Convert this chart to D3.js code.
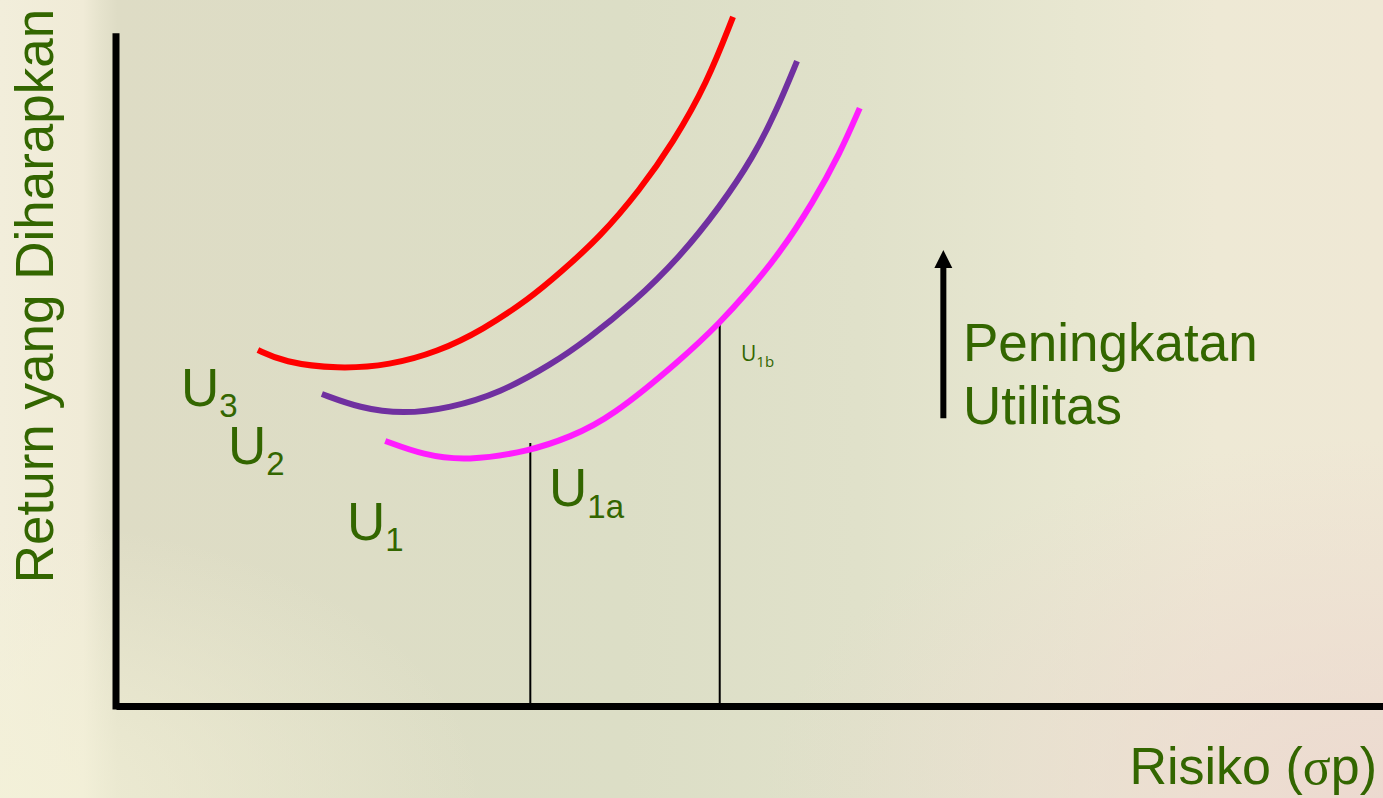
<!DOCTYPE html>
<html>
<head>
<meta charset="utf-8">
<script src="https://cdn.jsdelivr.net/npm/d3@7"></script>
<style>
  html, body { margin: 0; padding: 0; overflow: hidden; }
  svg { display: block; }
</style>
</head>
<body>
<svg id="chart" width="1383" height="798"></svg>
<script>
// Indifference curves: risk (σp) vs expected return, three utility levels
const curveNames = ["U3", "U2", "U1"];
const curveColors = ["#ff0000", "#7030a0", "#ff1cff"];

const riskU3 = [2.24, 2.64, 3.50, 4.33, 5.07, 5.79, 6.54, 7.01, 7.64, 8.27, 8.79, 9.33, 9.74];
const returnU3 = [10.61, 10.25, 10.04, 10.16, 10.55, 11.21, 12.16, 12.91, 13.98, 15.38, 16.78, 18.57, 20.54];

const riskU2 = [3.25, 3.85, 4.53, 5.27, 6.06, 6.88, 7.43, 8.16, 8.90, 9.53, 10.06, 10.43, 10.75];
const returnU2 = [9.30, 8.88, 8.70, 8.88, 9.33, 10.19, 10.91, 12.01, 13.38, 14.87, 16.36, 17.76, 19.22];

const riskU1 = [4.25, 4.85, 5.54, 6.54, 7.17, 7.80, 8.95, 9.53, 9.96, 10.48, 11.00, 11.43, 11.74];
const returnU1 = [7.90, 7.48, 7.30, 7.60, 8.02, 8.58, 10.37, 11.42, 12.31, 13.50, 15.00, 16.48, 17.82];

// Two points on U1 marked with drop lines
const markerNames = ["1a", "1b"];
const markerRisk = [6.54, 9.53];
const markerReturn = [7.84, 11.45];

// Arrow showing the direction of increasing utility
const arrowRisk = 13.06;
const arrowFrom = 8.58;
const arrowTo = 13.59;

const textGreen = "#336600";

const svg = d3.select("#chart");
const W = 1383, H = 798;

// ---- background ----
const defs = svg.append("defs");
const bg = defs.append("linearGradient").attr("id", "bgH").attr("x1", 0).attr("x2", 1).attr("y1", 0).attr("y2", 0);
[[0, "#f2eedb"], [0.06, "#f0ebd7"], [0.072, "#e6e3cd"], [0.085, "#dedcc5"], [0.45, "#dcdec6"],
 [0.62, "#e0e1ca"], [0.78, "#e8e7d1"], [0.88, "#eee9d5"], [1, "#efe8d5"]]
  .forEach(([o, c]) => bg.append("stop").attr("offset", o).attr("stop-color", c));
const pink = defs.append("radialGradient").attr("id", "bgPink")
  .attr("cx", 1).attr("cy", 1).attr("r", 0.45);
pink.append("stop").attr("offset", 0).attr("stop-color", "#ecd8cf").attr("stop-opacity", 0.9);
pink.append("stop").attr("offset", 1).attr("stop-color", "#ecd8cf").attr("stop-opacity", 0);
const bl = defs.append("radialGradient").attr("id", "bgCream")
  .attr("cx", 0).attr("cy", 1).attr("r", 0.35);
bl.append("stop").attr("offset", 0).attr("stop-color", "#f3f1d8").attr("stop-opacity", 0.8);
bl.append("stop").attr("offset", 1).attr("stop-color", "#f3f1d8").attr("stop-opacity", 0);

svg.append("rect").attr("width", W).attr("height", H).attr("fill", "url(#bgH)");
svg.append("rect").attr("width", W).attr("height", H).attr("fill", "url(#bgPink)");
svg.append("rect").attr("width", W).attr("height", H).attr("fill", "url(#bgCream)");

// ---- scales ----
const x = d3.scaleLinear().domain([0, 20]).range([116, 1383]);
const y = d3.scaleLinear().domain([0, 20]).range([706, 35]);

// B-spline through the sampled points keeps each curve smooth
const line = d3.line()
  .x(d => x(d[0]))
  .y(d => y(d[1]))
  .curve(d3.curveBasis);

// ---- drop lines to the risk axis ----
svg.append("g").selectAll("line")
  .data(markerRisk)
  .join("line")
  .attr("x1", d => x(d)).attr("x2", d => x(d))
  .attr("y1", (d, i) => y(markerReturn[i]))
  .attr("y2", y(0))
  .attr("stroke", "#000").attr("stroke-width", 2);

// ---- indifference curves ----
const series = [
  d3.zip(riskU3, returnU3),
  d3.zip(riskU2, returnU2),
  d3.zip(riskU1, returnU1)
];
svg.append("g").selectAll("path")
  .data(series)
  .join("path")
  .attr("d", line)
  .attr("fill", "none")
  .attr("stroke", (d, i) => curveColors[i])
  .attr("stroke-width", 6);

// ---- axes (domain lines only) ----
const xAxis = svg.append("g")
  .attr("transform", `translate(0,${y(0)})`)
  .call(d3.axisBottom(x).ticks(0).tickSize(0).tickSizeOuter(0));
xAxis.select(".domain").attr("stroke", "#000").attr("stroke-width", 7);
const yAxis = svg.append("g")
  .attr("transform", `translate(${x(0)},0)`)
  .call(d3.axisLeft(y).ticks(0).tickSize(0).tickSizeOuter(0));
yAxis.select(".domain").attr("stroke", "#000").attr("stroke-width", 7)
  .attr("d", `M0,${y(20.05)}V${y(0) + 3.5}`);

// ---- axis titles ----
const sans = "'Liberation Sans', Arial, sans-serif";
const xTitle = svg.append("text")
  .attr("x", 1377).attr("y", 784)
  .attr("text-anchor", "end")
  .attr("font-family", sans).attr("font-size", 52)
  .attr("fill", textGreen);
xTitle.append("tspan").text("Risiko (");
xTitle.append("tspan").attr("font-family", "'Liberation Serif', 'DejaVu Serif', serif").text("σ");
xTitle.append("tspan").text("p)");

svg.append("text")
  .attr("transform", "translate(53,296) rotate(-90)")
  .attr("text-anchor", "middle")
  .attr("font-family", sans).attr("font-size", 53)
  .attr("fill", textGreen)
  .text("Return yang Diharapkan");

// ---- curve labels ----
const labelPos = [[181, 406], [228, 464], [347, 540]];
curveNames.forEach((name, i) => {
  const t = svg.append("text")
    .attr("x", labelPos[i][0]).attr("y", labelPos[i][1])
    .attr("font-family", sans).attr("font-size", 53)
    .attr("fill", textGreen);
  t.append("tspan").text(name[0]);
  t.append("tspan").attr("font-size", 33).attr("dy", 11).text(name.slice(1));
});

// marker labels on U1
const u1a = svg.append("text")
  .attr("x", 549).attr("y", 506)
  .attr("font-family", sans).attr("font-size", 53)
  .attr("fill", textGreen);
u1a.append("tspan").text("U");
u1a.append("tspan").attr("font-size", 33).attr("dy", 12).text(markerNames[0]);

const u1b = svg.append("text")
  .attr("x", 741).attr("y", 361)
  .attr("font-family", "'Open Sans', 'Noto Sans', sans-serif").attr("font-size", 21)
  .attr("fill", textGreen);
u1b.append("tspan").text("U");
u1b.append("tspan").attr("font-size", 15).attr("dy", 6).text(markerNames[1]);

// ---- utility arrow ----
svg.append("line")
  .attr("x1", x(arrowRisk)).attr("x2", x(arrowRisk))
  .attr("y1", y(arrowFrom)).attr("y2", y(arrowTo) + 16)
  .attr("stroke", "#000").attr("stroke-width", 6);
svg.append("path")
  .attr("d", `M${x(arrowRisk) - 9},${y(arrowTo) + 18} L${x(arrowRisk)},${y(arrowTo)} L${x(arrowRisk) + 9},${y(arrowTo) + 18} Z`)
  .attr("fill", "#000");

const note = svg.append("text")
  .attr("font-family", sans).attr("font-size", 53)
  .attr("fill", textGreen);
note.append("tspan").attr("x", 963).attr("y", 361).text("Peningkatan");
note.append("tspan").attr("x", 963).attr("y", 424).text("Utilitas");
</script>
</body>
</html>
